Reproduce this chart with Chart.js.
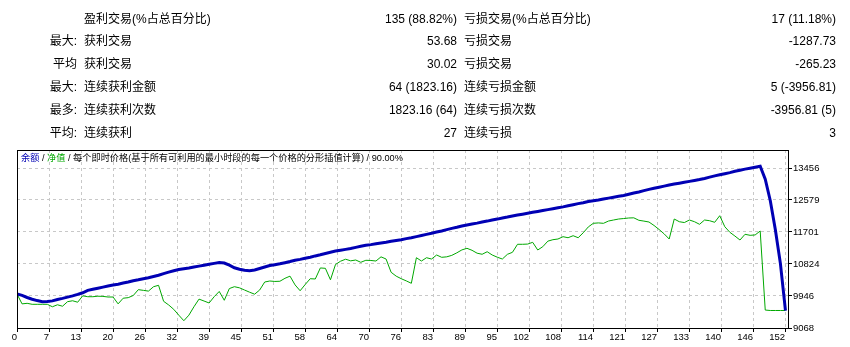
<!DOCTYPE html>
<html>
<head>
<meta charset="utf-8">
<script src="https://cdn.jsdelivr.net/npm/chart.js@4.4.1/dist/chart.umd.min.js"></script>
<style>
html, body { margin:0; padding:0; background:#fff; }
#wrap { position:relative; width:850px; height:347px; overflow:hidden; color:#000;
  font-family:"Liberation Sans","Noto Sans CJK SC",sans-serif; }
#chart { position:absolute; left:0; top:0; }
.t { position:absolute; font-size:12px; line-height:14px; white-space:nowrap; }
.r { text-align:right; }
#hdr { position:absolute; left:21px; top:152px; font-size:9.2px; line-height:12px; white-space:nowrap; }
</style>
</head>
<body>
<div id="wrap">
  <canvas id="chart" width="850" height="347"></canvas>
  <div id="hdr"><span style="color:#0000b4">余额</span> / <span style="color:#00a800">净值</span> / 每个即时价格(基于所有可利用的最小时段的每一个价格的分形插值计算) / 90.00%</div>
</div>
<script>
// report table text
const statPrefix = ['', '最大:', '平均', '最大:', '最多:', '平均:'];
const statWinLabel = ['盈利交易(%占总百分比)', '获利交易', '获利交易', '连续获利金额', '连续获利次数', '连续获利'];
const statWinValue = ['135 (88.82%)', '53.68', '30.02', '64 (1823.16)', '1823.16 (64)', '27'];
const statLossLabel = ['亏损交易(%占总百分比)', '亏损交易', '亏损交易', '连续亏损金额', '连续亏损次数', '连续亏损'];
const statLossValue = ['17 (11.18%)', '-1287.73', '-265.23', '5 (-3956.81)', '-3956.81 (5)', '3'];

// chart data: balance / equity after each trade
const balance = [
  10000, 9962, 9905, 9858, 9820, 9790, 9795, 9812, 9850, 9880,
  9915, 9950, 9990, 10035, 10100, 10130, 10160, 10190, 10220, 10245,
  10270, 10300, 10330, 10365, 10390, 10420, 10445, 10480, 10515, 10560,
  10600, 10640, 10670, 10695, 10715, 10740, 10765, 10790, 10815, 10840,
  10865, 10850, 10790, 10720, 10680, 10650, 10640, 10660, 10700, 10740,
  10780, 10805, 10830, 10860, 10890, 10925, 10950, 10980, 11010, 11045,
  11075, 11110, 11145, 11178, 11200, 11225, 11250, 11280, 11310, 11335,
  11355, 11380, 11400, 11420, 11445, 11470, 11490, 11520, 11545, 11575,
  11605, 11635, 11665, 11700, 11730, 11765, 11800, 11830, 11865, 11895,
  11920, 11945, 11975, 12000, 12030, 12055, 12085, 12110, 12140, 12165,
  12190, 12215, 12240, 12265, 12290, 12315, 12340, 12365, 12390, 12420,
  12450, 12480, 12505, 12535, 12560, 12580, 12605, 12630, 12655, 12680,
  12700, 12735, 12770, 12800, 12835, 12870, 12900, 12930, 12960, 12990,
  13015, 13040, 13065, 13090, 13115, 13140, 13170, 13205, 13240, 13270,
  13300, 13330, 13365, 13395, 13425, 13450, 13478, 13503,
  13150, 12560, 11760, 10834, 9546
];
const equity = [
  10000, 9730, 9745, 9718, 9718, 9718, 9718, 9650, 9705, 9665,
  9790, 9815, 9775, 9950, 9926, 9926, 9940, 9935, 9918, 9918,
  9730, 9885, 9900, 9960, 10120, 10100, 10080, 10200, 10239, 9800,
  9700, 9580, 9420, 9268, 9420, 9650, 9860, 9808, 9754, 9926,
  10070, 9828, 10150, 10201, 10170, 10110, 10050, 9995, 10110, 10330,
  10357, 10345, 10350, 10431, 10490, 10250, 10090, 10260, 10420, 10412,
  10715, 10705, 10390, 10810, 10900, 10955, 10910, 10933, 10870, 10925,
  10920, 10905, 11020, 10960, 10596, 10490, 10420, 10360, 10294, 10996,
  10905, 10996, 10960, 11070, 11007, 11020, 11060, 11130, 11210, 11254,
  11199, 11120, 11090, 11160, 11070, 11010, 10960, 11089, 11144, 11364,
  11364, 11370, 11418, 11207, 11298, 11450, 11490, 11509, 11572, 11544,
  11599, 11544, 11680, 11840, 11940, 11950, 11939, 12002, 12030, 12057,
  12070, 12085, 12090, 12022, 12000, 11975, 11880, 11770, 11650, 11509,
  12057, 11983, 11960, 12030, 11983, 11912, 12030, 12010, 11967, 12148,
  11846, 11693, 11590, 11481, 11638, 11610, 11620, 11728,
  9560, 9548, 9548, 9548, 9548
];
const tradeNo = balance.map((_, i) => i);

const xTickLabels = ['0','7','13','20','26','32','39','45','51','58','64','70','76','83','89','95','102','108','114','121','127','133','140','146','152'];
const yTickValues = [9068, 9946, 10824, 11701, 12579, 13456];

const X_MAX = 152.5;   // right edge of plot
const X_STEP = 6.33;   // grid step in trades
const Y_MIN = 9068, Y_MAX = 13950;

// build the table
const wrap = document.getElementById('wrap');
function addText(txt, cls, style){
  const d = document.createElement('div');
  d.className = cls;
  d.textContent = txt;
  Object.assign(d.style, style);
  wrap.appendChild(d);
}
statPrefix.forEach((p, i) => {
  const top = (11.5 + i * 22.9) + 'px';
  if (p) addText(p, 't r', { top, right:'773px' });
  addText(statWinLabel[i], 't', { top, left:'84px' });
  addText(statWinValue[i], 't r', { top, right:'393px' });
  addText(statLossLabel[i], 't', { top, left:'464px' });
  addText(statLossValue[i], 't r', { top, right:'14px' });
});

// black frame round the plot
const framePlugin = {
  id: 'frame',
  afterDatasetsDraw(chart){
    const { ctx, chartArea: a } = chart;
    ctx.save();
    ctx.strokeStyle = '#000';
    ctx.lineWidth = 1;
    ctx.strokeRect(a.left + 0.5, a.top + 0.5, a.right - a.left, a.bottom - a.top);
    ctx.restore();
  }
};

const tickFont = { family: 'Liberation Sans', size: 9.5 };

new Chart(document.getElementById('chart'), {
  type: 'line',
  data: {
    datasets: [
      {
        label: '余额',
        data: tradeNo.map((n, i) => ({ x: n, y: balance[i] })),
        borderColor: '#0000b4',
        borderWidth: 3,
        pointRadius: 0,
        tension: 0,
        order: 0
      },
      {
        label: '净值',
        data: tradeNo.map((n, i) => ({ x: n, y: equity[i] })),
        borderColor: '#00a800',
        borderWidth: 1,
        pointRadius: 0,
        tension: 0,
        order: 1
      }
    ]
  },
  options: {
    responsive: false,
    animation: false,
    devicePixelRatio: 1,
    layout: { padding: { left: 17, top: 150, right: 0, bottom: 0 } },
    plugins: { legend: { display: false }, tooltip: { enabled: false } },
    scales: {
      x: {
        type: 'linear',
        min: 0,
        max: X_MAX,
        afterBuildTicks: (s) => { s.ticks = xTickLabels.map((_, i) => ({ value: i * X_STEP })); },
        afterFit: (s) => { s.height = 19; },
        grid: { color: '#c8c8c8', tickLength: 4, tickColor: '#000' },
        border: { color: '#000', dash: [3, 3] },
        ticks: {
          autoSkip: false, maxRotation: 0, padding: 0, align: 'end',
          color: '#000', font: tickFont,
          callback: (v, i) => xTickLabels[i]
        }
      },
      y: {
        type: 'linear',
        position: 'right',
        min: Y_MIN,
        max: Y_MAX,
        afterBuildTicks: (s) => { s.ticks = yTickValues.map(v => ({ value: v })); },
        afterFit: (s) => { s.width = 62; },
        grid: { color: '#c8c8c8', tickLength: 4, tickColor: '#000' },
        border: { color: '#000', dash: [3, 3] },
        ticks: {
          padding: 1, color: '#000', font: tickFont,
          callback: (v) => String(v)
        }
      }
    }
  },
  plugins: [framePlugin]
});
</script>
</body>
</html>
